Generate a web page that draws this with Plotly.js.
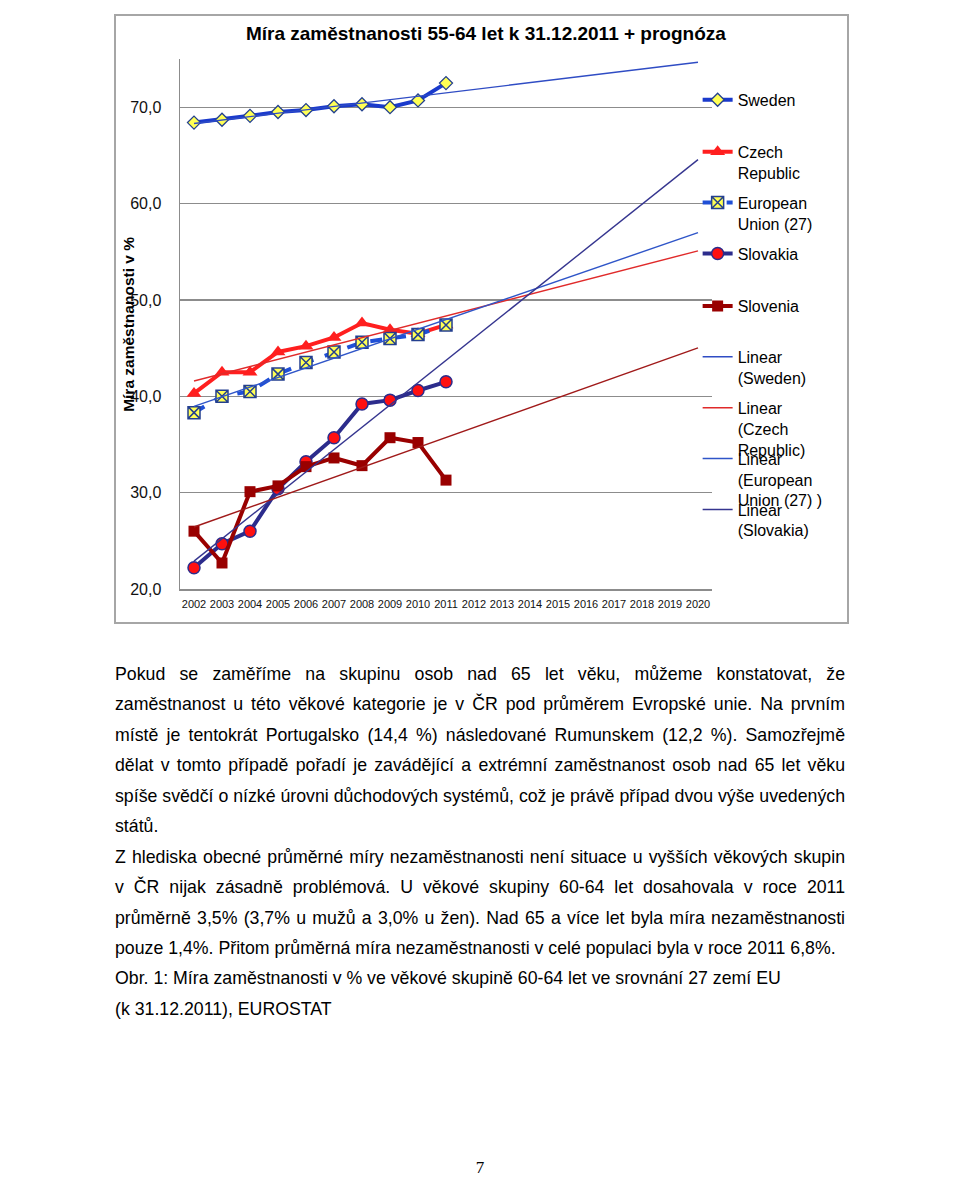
<!DOCTYPE html>
<html>
<head>
<meta charset="utf-8">
<script src="https://cdn.plot.ly/plotly-3.0.1.min.js"></script>
<style>
  html, body { margin: 0; padding: 0; background: #fff; }
  body { width: 960px; height: 1177px; position: relative; overflow: hidden; font-family: "Liberation Sans", Arial, sans-serif; }
  #frame { position: absolute; left: 114px; top: 14px; width: 731px; height: 606px; border: 2px solid #a6a6a6; }
  #chart { width: 731px; height: 606px; }
  #text { position: absolute; left: 115px; top: 659px; width: 730px; color: #000; }
  .ln { height: 30.45px; line-height: 30.45px; white-space: nowrap; }
  .j { text-align: justify; text-align-last: justify; }
  #pg { position: absolute; left: 0; width: 960px; top: 1158px; text-align: center; font-family: "Liberation Serif", "DejaVu Serif", serif; font-size: 17px; }
</style>
</head>
<body>
<div id="frame"><div id="chart"></div></div>
<div id="text"></div>
<div id="pg">7</div>
<script>
// ---- data ----
const years = ['2002','2003','2004','2005','2006','2007','2008','2009','2010','2011',
               '2012','2013','2014','2015','2016','2017','2018','2019','2020'];
const dataYears = years.slice(0, 10);
const sweden   = [68.4, 68.7, 69.1, 69.5, 69.7, 70.1, 70.3, 70.0, 70.7, 72.5];
const czech    = [40.3, 42.5, 42.5, 44.6, 45.2, 46.1, 47.6, 46.9, 46.5, 47.4];
const eu27     = [38.3, 40.0, 40.5, 42.3, 43.5, 44.6, 45.6, 46.0, 46.4, 47.4];
const slovakia = [22.2, 24.7, 26.0, 30.4, 33.2, 35.7, 39.2, 39.6, 40.6, 41.5];
const slovenia = [26.0, 22.7, 30.1, 30.7, 32.7, 33.6, 32.8, 35.7, 35.2, 31.3];
const seriesNames = ['Sweden', 'Czech<br>Republic', 'European<br>Union (27)', 'Slovakia', 'Slovenia'];
const trendNames = ['Linear<br>(Sweden)', 'Linear<br>(Czech<br>Republic)', 'Linear<br>(European<br>Union (27) )', 'Linear<br>(Slovakia)', 'Linear (Slovenia)'];
const yTicks = [20, 30, 40, 50, 60, 70];
const paragraphs = [
  ['Pokud se zaměříme na skupinu osob nad 65 let věku, můžeme konstatovat, že', 1],
  ['zaměstnanost u této věkové kategorie je v ČR pod průměrem Evropské unie. Na prvním', 1],
  ['místě je tentokrát Portugalsko (14,4 %) následované Rumunskem (12,2 %). Samozřejmě', 1],
  ['dělat v tomto případě pořadí je zavádějící a extrémní zaměstnanost osob nad 65 let věku', 1],
  ['spíše svědčí o nízké úrovni důchodových systémů, což je právě případ dvou výše uvedených', 1],
  ['států.', 0],
  ['Z hlediska obecné průměrné míry nezaměstnanosti není situace u vyšších věkových skupin', 1],
  ['v ČR nijak zásadně problémová. U věkové skupiny 60-64 let dosahovala v roce 2011', 1],
  ['průměrně 3,5% (3,7% u mužů a 3,0% u žen). Nad 65 a více let byla míra nezaměstnanosti', 1],
  ['pouze 1,4%. Přitom průměrná míra nezaměstnanosti v celé populaci byla v roce 2011 6,8%.', 0],
  ['Obr. 1: Míra zaměstnanosti v % ve věkové skupině 60-64 let ve srovnání 27 zemí EU', 0],
  ['(k 31.12.2011), EUROSTAT', 0]
];

// ---- linear trend (least squares over data years, extended to all years) ----
function trend(vals) {
  const n = vals.length;
  const mx = (n - 1) / 2;
  const my = vals.reduce((a, b) => a + b, 0) / n;
  let sxy = 0, sxx = 0;
  vals.forEach((v, i) => { sxy += (i - mx) * (v - my); sxx += (i - mx) * (i - mx); });
  const b = sxy / sxx, a = my - b * mx;
  return years.map((_, i) => a + b * i);
}

const styles = [
  {color: '#1a3acc', dash: 'solid', marker: {symbol: 'diamond', size: 10, color: '#ffff55', line: {color: '#23408f', width: 1.3}}},
  {color: '#ff1f1f', dash: 'solid', marker: {symbol: 'triangle-up', size: 13, color: '#ff1f1f', line: {width: 0}}},
  {color: '#1f4fd6', dash: 'dash',  marker: {symbol: 'square-x', size: 12, color: '#ffff55', line: {color: '#233f8f', width: 1.5}}},
  {color: '#2c2c8c', dash: 'solid', marker: {symbol: 'circle', size: 12, color: '#ff1010', line: {color: '#2c2c8c', width: 1.5}}},
  {color: '#990000', dash: 'solid', marker: {symbol: 'square', size: 11, color: '#990000', line: {width: 0}}}
];
const trendColors = ['#2f4cc4', '#e02a2a', '#2f55c8', '#35358f', '#a01a1a'];
const allSeries = [sweden, czech, eu27, slovakia, slovenia];

// legend positions (paper y of each legend box top)
const legY = [0.955, 0.857, 0.761, 0.665, 0.566, 0.470, 0.374, 0.278, 0.182];
const legX = 0.973;

const traces = [];
allSeries.forEach((vals, i) => {
  traces.push({
    x: dataYears, y: vals, type: 'scatter', mode: 'lines+markers', name: seriesNames[i],
    line: {color: styles[i].color, width: 4, dash: styles[i].dash},
    marker: styles[i].marker,
    legend: i === 0 ? 'legend' : 'legend' + (i + 1)
  });
});
allSeries.forEach((vals, i) => {
  traces.push({
    x: years, y: trend(vals), type: 'scatter', mode: 'lines', name: trendNames[i],
    line: {color: trendColors[i], width: 1.4},
    showlegend: i < 4,
    legend: 'legend' + (i + 6)
  });
});

const layout = {
  width: 731, height: 606,
  margin: {l: 64, r: 135, t: 43, b: 33},
  paper_bgcolor: '#fff', plot_bgcolor: '#fff',
  separators: ',.',
  font: {family: '"Liberation Sans", Arial, sans-serif', color: '#111'},
  title: {text: '<b>Míra zaměstnanosti 55-64 let k 31.12.2011 + prognóza</b>',
          x: 0.506, xref: 'container', xanchor: 'center', y: 0.972, yref: 'container', yanchor: 'middle',
          font: {size: 19, color: '#000'}},
  xaxis: {type: 'category', categoryorder: 'array', categoryarray: years, range: [-0.5, 18.5],
          showgrid: false, showline: true, linecolor: '#8c8c8c', linewidth: 1.5,
          ticks: '', tickfont: {size: 11, color: '#111'}, ticklabelstandoff: 4, zeroline: false},
  yaxis: {range: [20, 75], tickvals: yTicks, tickformat: '.1f', showgrid: true, gridcolor: '#8c8c8c', gridwidth: 1.3,
          showline: true, linecolor: '#8c8c8c', linewidth: 1.5, ticks: '', tickfont: {size: 16, color: '#111'},
          ticklabelstandoff: 14, zeroline: false},
  annotations: [{text: '<b>Míra zaměstnanosti v %</b>', xref: 'paper', yref: 'paper', x: -0.098, y: 0.50,
                 xanchor: 'center', yanchor: 'middle', textangle: -90, showarrow: false,
                 font: {size: 15.5, color: '#000'}}],
  showlegend: true
};
for (let k = 1; k <= 9; k++) {
  const key = k === 1 ? 'legend' : 'legend' + k;
  layout[key] = {x: legX, xanchor: 'left', y: legY[k - 1], yanchor: 'top', valign: 'top',
                 bgcolor: 'rgba(0,0,0,0)', borderwidth: 0, font: {size: 16, color: '#000'},
                 itemsizing: 'trace', tracegroupgap: 0};
}

Plotly.newPlot('chart', traces, layout, {displayModeBar: false, staticPlot: true});

// ---- text ----
const box = document.getElementById('text');
const cv = document.createElement('canvas').getContext('2d');
cv.font = '17px "Liberation Sans"';
const refW = cv.measureText(paragraphs[9][0]).width;
const fs = 17 * 721 / refW;
box.style.fontSize = fs.toFixed(2) + 'px';
paragraphs.forEach(([t, just]) => {
  const d = document.createElement('div');
  d.className = 'ln' + (just ? ' j' : '');
  d.textContent = t;
  box.appendChild(d);
});
</script>
</body>
</html>
